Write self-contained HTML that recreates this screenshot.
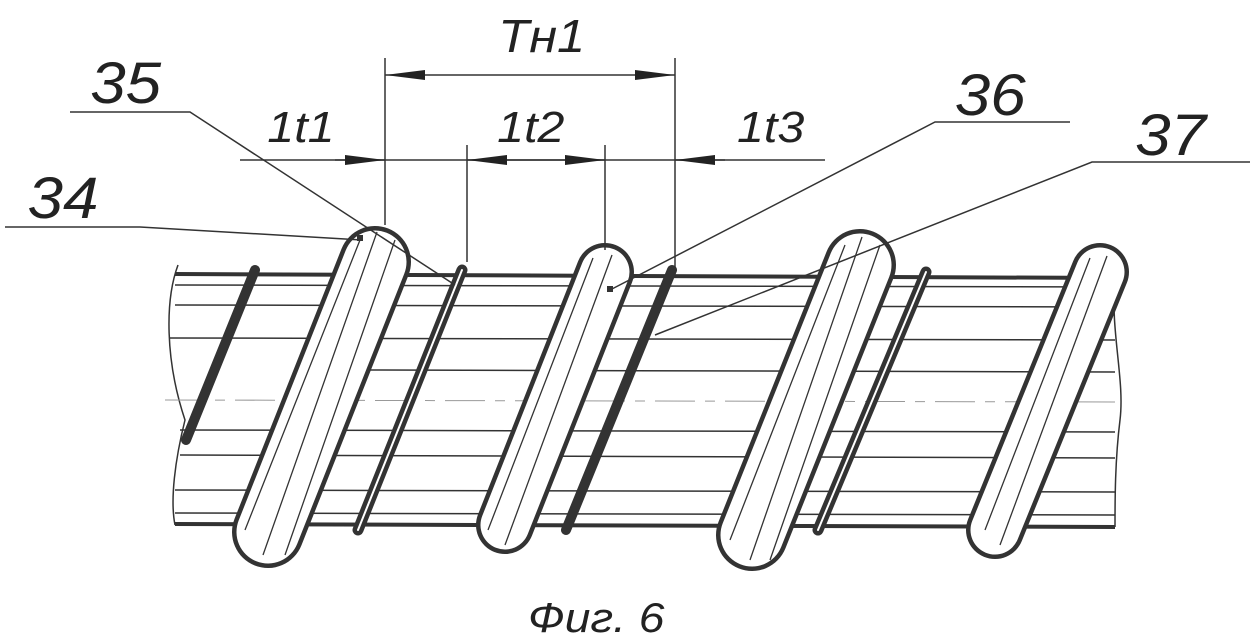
<!DOCTYPE html>
<html><head><meta charset="utf-8"><style>
html,body{margin:0;padding:0;background:#fff;}
svg{display:block}
text{font-family:"Liberation Sans",sans-serif;font-style:italic;fill:#222}
</style></head><body>
<svg width="1254" height="642" viewBox="0 0 1254 642" xmlns="http://www.w3.org/2000/svg">
<defs>
<marker id="b" viewBox="0 0 40 10" refX="40" refY="5" markerWidth="40" markerHeight="10" markerUnits="userSpaceOnUse" orient="auto-start-reverse">
<path d="M0,0 L40,5 L0,10 Z" fill="#222"/></marker>
</defs>
<g stroke="#333" fill="none" stroke-width="1.5">
<line x1="175" y1="274" x2="1120" y2="278" stroke-width="4"/>
<line x1="175" y1="524" x2="1115" y2="527" stroke-width="4"/>
<path d="M178,265 C165,300 165,360 185,420 C175,460 170,500 175,525"/>
<path d="M1115,280 C1110,330 1125,380 1120,420 C1115,460 1115,500 1115,527"/>
<line x1="175" y1="285" x2="1115" y2="287"/>
<line x1="175" y1="305" x2="1115" y2="307"/>
<line x1="170" y1="338" x2="1115" y2="340"/>
<line x1="370" y1="370" x2="1115" y2="372"/>
<line x1="180" y1="430" x2="1115" y2="432"/>
<line x1="180" y1="455" x2="1115" y2="458"/>
<line x1="175" y1="490" x2="1115" y2="492"/>
<line x1="175" y1="513" x2="1115" y2="515"/>
<line x1="165" y1="400" x2="1125" y2="402" stroke="#999" stroke-dasharray="40,10,10,10" stroke-width="1"/>
</g>
<g stroke-linecap="round">
<line x1="255" y1="270" x2="186" y2="440" stroke="#333" stroke-width="10"/>
<line x1="462" y1="270" x2="358" y2="530" stroke="#333" stroke-width="11"/>
<line x1="462" y1="270" x2="358" y2="530" stroke="#fff" stroke-width="2"/>
<line x1="672" y1="270" x2="566" y2="530" stroke="#333" stroke-width="10"/>
<line x1="926" y1="272" x2="818" y2="530" stroke="#333" stroke-width="11"/>
<line x1="926" y1="272" x2="818" y2="530" stroke="#fff" stroke-width="2"/>
</g>
<g stroke-linecap="round">
<line x1="375" y1="262" x2="268" y2="532" stroke="#333" stroke-width="72"/>
<line x1="375" y1="262" x2="268" y2="532" stroke="#fff" stroke-width="63"/>
<line x1="605" y1="272" x2="505" y2="525" stroke="#333" stroke-width="58"/>
<line x1="605" y1="272" x2="505" y2="525" stroke="#fff" stroke-width="49"/>
<line x1="860" y1="265" x2="752" y2="535" stroke="#333" stroke-width="72"/>
<line x1="860" y1="265" x2="752" y2="535" stroke="#fff" stroke-width="63"/>
<line x1="1100" y1="272" x2="995" y2="530" stroke="#333" stroke-width="58"/>
<line x1="1100" y1="272" x2="995" y2="530" stroke="#fff" stroke-width="49"/>
</g>
<g stroke="#333" stroke-width="1.3">
<line x1="360" y1="240" x2="245" y2="530"/><line x1="377" y1="232" x2="263" y2="555"/><line x1="395" y1="240" x2="285" y2="555"/>
<line x1="593" y1="258" x2="488" y2="530"/><line x1="612" y1="255" x2="505" y2="545"/>
<line x1="845" y1="245" x2="730" y2="540"/><line x1="862" y1="237" x2="750" y2="560"/><line x1="880" y1="245" x2="770" y2="560"/>
<line x1="1090" y1="258" x2="985" y2="530"/><line x1="1107" y1="256" x2="1000" y2="545"/>
</g>
<g stroke="#333" stroke-width="1.5" fill="none">
<line x1="385" y1="58" x2="385" y2="225"/>
<line x1="675" y1="58" x2="675" y2="268"/>
<line x1="467" y1="145" x2="467" y2="262"/>
<line x1="605" y1="145" x2="605" y2="250"/>
<line x1="385" y1="75" x2="675" y2="75" marker-start="url(#b)" marker-end="url(#b)"/>
<line x1="240" y1="160" x2="825" y2="160"/>
<line x1="335" y1="160" x2="385" y2="160" marker-end="url(#b)"/>
<line x1="467" y1="160" x2="605" y2="160" marker-start="url(#b)" marker-end="url(#b)"/>
<line x1="725" y1="160" x2="675" y2="160" marker-end="url(#b)"/>
<polyline points="70,112 190,112 455,285"/>
<polyline points="5,227 140,227 362,240"/>
<polyline points="1070,122 935,122 610,290"/>
<polyline points="1250,162 1092,162 655,335"/>
</g>
<rect x="357" y="235" width="6" height="6" fill="#333"/>
<rect x="607" y="286" width="6" height="6" fill="#333"/>
<g transform="scale(1.1,1)">
<text x="453" y="52" font-size="46">Тн1</text>
<text x="82" y="103" font-size="58">35</text>
<text x="243" y="142" font-size="44">1t1</text>
<text x="452" y="142" font-size="44">1t2</text>
<text x="670" y="142" font-size="44">1t3</text>
<text x="868" y="115" font-size="58">36</text>
<text x="1032" y="155" font-size="58">37</text>
<text x="25" y="218" font-size="58">34</text>
<text x="480" y="632" font-size="42">Фиг. 6</text>
</g>
</svg>
</body></html>
